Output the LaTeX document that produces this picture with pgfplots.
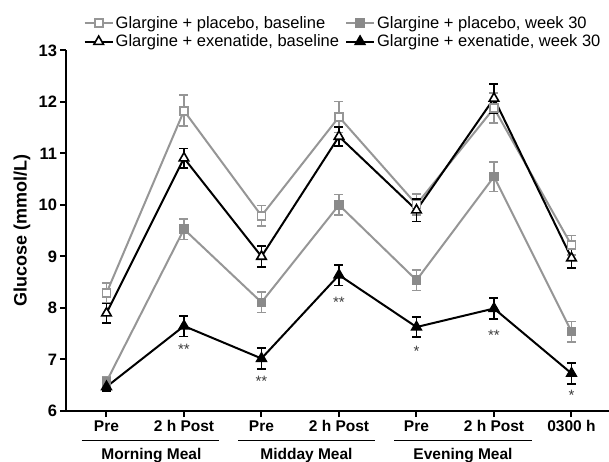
\documentclass[border=0pt]{standalone}
\usepackage{fontspec}
\setmainfont{Liberation Sans}
\usepackage{pgfplots}
\pgfplotsset{compat=1.18}
\definecolor{lgray}{RGB}{150,150,150}
\definecolor{mgray}{RGB}{138,138,138}
\definecolor{stargray}{RGB}{60,60,60}

\pgfplotstableread{
x y e
0 8.29 0.19
1 11.83 0.30
2 9.79 0.20
3 11.71 0.30
4 10.01 0.20
5 11.88 0.29
6 9.22 0.19
}\plbase
\pgfplotstableread{
x y e
0 6.57 0.10
1 9.53 0.20
2 8.11 0.20
3 10.00 0.20
4 8.54 0.20
5 10.55 0.29
6 7.54 0.20
}\plwk
\pgfplotstableread{
x y e
0 7.90 0.19
1 10.91 0.19
2 9.00 0.20
3 11.33 0.19
4 9.90 0.22
5 12.07 0.28
6 8.97 0.19
}\exbase
\pgfplotstableread{
x y e
0 6.47 0.08
1 7.65 0.20
2 7.02 0.20
3 8.64 0.20
4 7.63 0.19
5 7.99 0.20
6 6.73 0.20
}\exwk
\pgfplotstableread{
x y l
1 7.25 **
2 6.64 **
3 8.16 **
4 7.22 *
5 7.52 **
6 6.37 *
}\stars

\begin{document}
\begin{tikzpicture}
\useasboundingbox (-66.5pt,-51pt) rectangle (542.5pt,411pt);
\begin{axis}[
  at={(0,0)}, anchor=south west,
  scale only axis, width=542.5pt, height=360.5pt,
  xmin=-0.516, xmax=6.484, ymin=6, ymax=13,
  clip=false,
  axis lines*=left,
  axis line style={line width=2pt, -},
  xtick={0,1,2,3,4,5,6},
  xticklabels={Pre,2 h Post,Pre,2 h Post,Pre,2 h Post,0300 h},
  ytick={6,7,8,9,10,11,12,13},
  tick style={line width=2pt, black},
  major tick length=6pt,
  tick align=outside,
  /pgf/number format/assume math mode=true,
  xticklabel style={font=\fontsize{15.5}{16}\selectfont\bfseries},
  yticklabel style={font=\fontsize{16.5}{17}\selectfont\bfseries},
  ylabel={Glucose (mmol/L)},
  ylabel style={at={(axis description cs:-0.082,0.5)}, anchor=center,
     font=\fontsize{18}{19}\selectfont\bfseries},
  legend columns=2,
  legend cell align=left,
  legend style={draw=none, fill=none, at={(axis description cs:0,1)}, anchor=south west,
     xshift=17pt, yshift=0pt, inner sep=0pt, font=\fontsize{16.5}{19}\selectfont,
     /tikz/every even column/.append style={column sep=4pt}, row sep=1pt},
  legend image code/.code={\draw[mark repeat=2, mark phase=2] plot coordinates {(0pt,0pt) (14pt,0pt) (28pt,0pt)};},
  error bars/error bar style={line width=1.6pt, solid},
  error bars/error mark options={rotate=90, line width=1.6pt, mark size=4.5pt},
]
\addplot[color=lgray, line width=2pt, mark=square*, mark size=4pt,
   mark options={fill=white, draw=lgray, line width=1.6pt},
   error bars/.cd, y dir=both, y explicit]
   table[x=x, y=y, y error=e] {\plbase};
\addlegendentry{Glargine + placebo, baseline}
\addplot[color=lgray, line width=2pt, mark=square*, mark size=4pt,
   mark options={fill=mgray, draw=mgray, line width=1.6pt},
   error bars/.cd, y dir=both, y explicit]
   table[x=x, y=y, y error=e] {\plwk};
\addlegendentry{Glargine + placebo, week 30}
\addplot[color=black, line width=2pt, mark=triangle*, mark size=5.5pt,
   mark options={fill=white, draw=black, line width=1.6pt},
   error bars/.cd, y dir=both, y explicit]
   table[x=x, y=y, y error=e] {\exbase};
\addlegendentry{Glargine + exenatide, baseline}
\addplot[color=black, line width=2pt, mark=triangle*, mark size=5.5pt,
   mark options={fill=black, draw=black, line width=1.6pt},
   error bars/.cd, y dir=both, y explicit]
   table[x=x, y=y, y error=e] {\exwk};
\addlegendentry{Glargine + exenatide, week 30}
\addplot[draw=none, forget plot, nodes near coords, point meta=explicit symbolic,
   nodes near coords style={anchor=center, inner sep=0pt, yshift=-3pt,
     text=stargray, font=\fontsize{15}{15}\selectfont}]
   table[x=x, y=y, meta=l] {\stars};
\foreach \a/\b/\c/\t in {-0.32/1.45/0.58/Morning Meal, 1.70/3.47/2.58/Midday Meal, 3.71/5.49/4.60/Evening Meal}{
  \edef\tmp{\noexpand\draw[line width=1.5pt] ([yshift=-29.7pt]axis cs:\a,6) -- ([yshift=-29.7pt]axis cs:\b,6);
  \noexpand\node[anchor=base, inner sep=0pt, font=\noexpand\fontsize{15.5}{16}\noexpand\selectfont\noexpand\bfseries] at ([yshift=-48.5pt]axis cs:\c,6) {\t};}
  \tmp
}
\end{axis}
\end{tikzpicture}
\end{document}
